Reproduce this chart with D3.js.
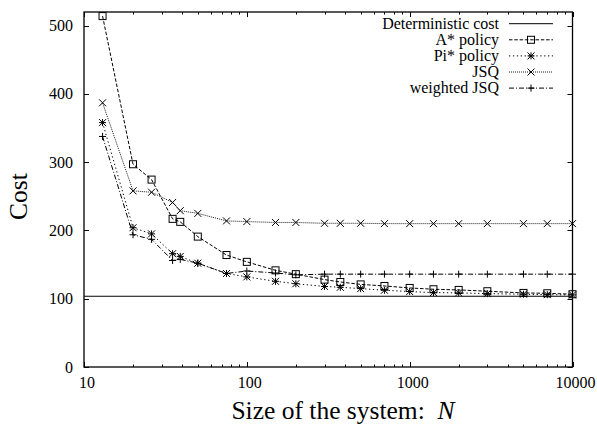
<!DOCTYPE html>
<html>
<head>
<meta charset="utf-8">
<script src="https://cdn.jsdelivr.net/npm/d3@7"></script>
<style>
  html, body { margin: 0; padding: 0; background: #fff; }
  svg { display: block; }
</style>
</head>
<body>
<svg id="chart" width="597" height="424"></svg>
<script>
const sizes = [13, 20, 26, 35, 39, 50, 75, 100, 150, 200, 300, 375, 500, 700, 1000, 1400, 2000, 3000, 5000, 7000, 10000];
const deterministicCost = 103.6;
const aStarPolicy = [514, 297, 274.5, 217, 212.6, 191, 164, 154, 141.6, 136, 128, 124.5, 121, 118.7, 115.8, 113.9, 112.9, 111, 108.5, 108, 106.6];
const piStarPolicy = [358, 204, 195, 166, 162, 152, 137, 132, 125.5, 122, 118, 116.8, 114.8, 112.4, 110.5, 109, 108.5, 107.5, 106.6, 106, 105.6];
const jsq = [387, 258, 256, 241, 229, 225, 214, 213, 211.7, 211.7, 210.5, 210.5, 210.5, 210, 210, 210, 210, 210, 210, 210, 210];
const weightedJsq = [337.7, 193.7, 187, 156, 157.7, 152, 137, 140.6, 137.7, 135, 136, 136, 136, 136, 136, 136, 136, 136, 136, 136, 136];
const xTickLabels = ["10", "100", "1000", "10000"];
const yTickValues = [0, 100, 200, 300, 400, 500];
const legendLabels = ["Deterministic cost", "A* policy", "Pi* policy", "JSQ", "weighted JSQ"];

const FONT = "'Liberation Serif', 'Times New Roman', Times, 'DejaVu Serif', serif";
const svg = d3.select("#chart").attr("font-family", FONT);
const L = 84, R = 572.5, T = 12, B = 367;
const x = d3.scaleLog().domain([10, 10000]).range([L, R]);
const y = d3.scaleLinear().domain([0, 520]).range([B, T]);

const xMajor = xTickLabels.map(Number);
const xMinor = [];
for (let d = 10; d < 10000; d *= 10) for (let k = 2; k <= 9; k++) xMinor.push(d * k);

const axes = svg.append("g").attr("stroke", "#000").attr("stroke-width", 1);
xMajor.forEach(v => {
  const px = Math.round(x(v)) + 0.5;
  axes.append("line").attr("x1", px).attr("x2", px).attr("y1", B).attr("y2", B - 5);
  axes.append("line").attr("x1", px).attr("x2", px).attr("y1", T).attr("y2", T + 5);
});
xMinor.forEach(v => {
  const px = Math.round(x(v)) + 0.5;
  axes.append("line").attr("x1", px).attr("x2", px).attr("y1", B).attr("y2", B - 2.5);
  axes.append("line").attr("x1", px).attr("x2", px).attr("y1", T).attr("y2", T + 2.5);
});
yTickValues.forEach(v => {
  const py = Math.round(y(v)) + 0.5;
  axes.append("line").attr("x1", L).attr("x2", L + 5).attr("y1", py).attr("y2", py);
  axes.append("line").attr("x1", R).attr("x2", R - 5).attr("y1", py).attr("y2", py);
});

svg.append("g").selectAll("text").data(xMajor).join("text")
  .attr("font-family", FONT)
  .attr("x", d => x(d) + 3).attr("y", 388)
  .attr("text-anchor", "middle").attr("font-size", 16)
  .text((d, i) => xTickLabels[i]);
svg.append("g").selectAll("text").data(yTickValues).join("text")
  .attr("font-family", FONT)
  .attr("x", 73).attr("y", d => y(d) + 5.5)
  .attr("text-anchor", "end").attr("font-size", 16)
  .text(d => d);

svg.append("text").attr("font-family", FONT).attr("transform", "translate(26.5,196.5) rotate(-90)")
  .attr("text-anchor", "middle").attr("font-size", 25.5).text("Cost");
const xt = svg.append("text").attr("font-family", FONT).attr("x", 343).attr("y", 419)
  .attr("text-anchor", "middle").attr("font-size", 25.5);
xt.append("tspan").text("Size of the system:\u2002");
xt.append("tspan").attr("font-style", "italic").text("N");

const series = [
  { name: legendLabels[1], values: aStarPolicy, dash: "3.5,1.8", marker: "square" },
  { name: legendLabels[2], values: piStarPolicy, dash: "1.3,2.6", marker: "star" },
  { name: legendLabels[3], values: jsq, dash: "1,1", marker: "cross", width: 0.9 },
  { name: legendLabels[4], values: weightedJsq, dash: "5,2,1,2", marker: "plus" }
];

function drawMarker(g, type, cx, cy) {
  const s = 3.5;
  if (type === "square") {
    g.append("rect").attr("x", cx - s).attr("y", cy - s).attr("width", 2 * s).attr("height", 2 * s)
      .attr("fill", "none").attr("stroke", "#000").attr("stroke-width", 1);
  } else {
    const p = d3.path();
    if (type === "cross" || type === "star") {
      p.moveTo(cx - s, cy - s); p.lineTo(cx + s, cy + s);
      p.moveTo(cx - s, cy + s); p.lineTo(cx + s, cy - s);
    }
    if (type === "plus" || type === "star") {
      p.moveTo(cx - s, cy); p.lineTo(cx + s, cy);
      p.moveTo(cx, cy - s); p.lineTo(cx, cy + s);
    }
    g.append("path").attr("d", p.toString()).attr("fill", "none")
      .attr("stroke", "#000").attr("stroke-width", 1);
  }
}

svg.append("line").attr("x1", L).attr("x2", R)
  .attr("y1", y(deterministicCost)).attr("y2", y(deterministicCost))
  .attr("stroke", "#000").attr("stroke-width", 1.1);

const line = d3.line().x(d => x(d[0])).y(d => y(d[1]));
series.forEach(s => {
  const pts = sizes.map((n, i) => [n, s.values[i]]);
  const g = svg.append("g");
  g.append("path").attr("d", line(pts)).attr("fill", "none")
    .attr("stroke", "#000").attr("stroke-width", s.width || 1)
    .attr("stroke-dasharray", s.dash);
  pts.forEach(p => drawMarker(g, s.marker, x(p[0]), y(p[1])));
});

const lg = svg.append("g");
const legendItems = [{ dash: null, marker: null }].concat(series);
legendItems.forEach((s, i) => {
  const by = 28.7 + i * 16.1;
  const cy = by - 5;
  lg.append("text").attr("font-family", FONT).attr("x", 499).attr("y", by).attr("text-anchor", "end")
    .attr("font-size", 16).text(legendLabels[i]);
  lg.append("line").attr("x1", 509).attr("x2", 553).attr("y1", cy).attr("y2", cy)
    .attr("stroke", "#000").attr("stroke-width", s.width || 1)
    .attr("stroke-dasharray", s.dash);
  if (s.marker) drawMarker(lg, s.marker, 531, cy);
});

svg.append("rect").attr("x", L).attr("y", T).attr("width", R - L).attr("height", B - T)
  .attr("fill", "none").attr("stroke", "#000").attr("stroke-width", 1.3);
</script>
</body>
</html>
